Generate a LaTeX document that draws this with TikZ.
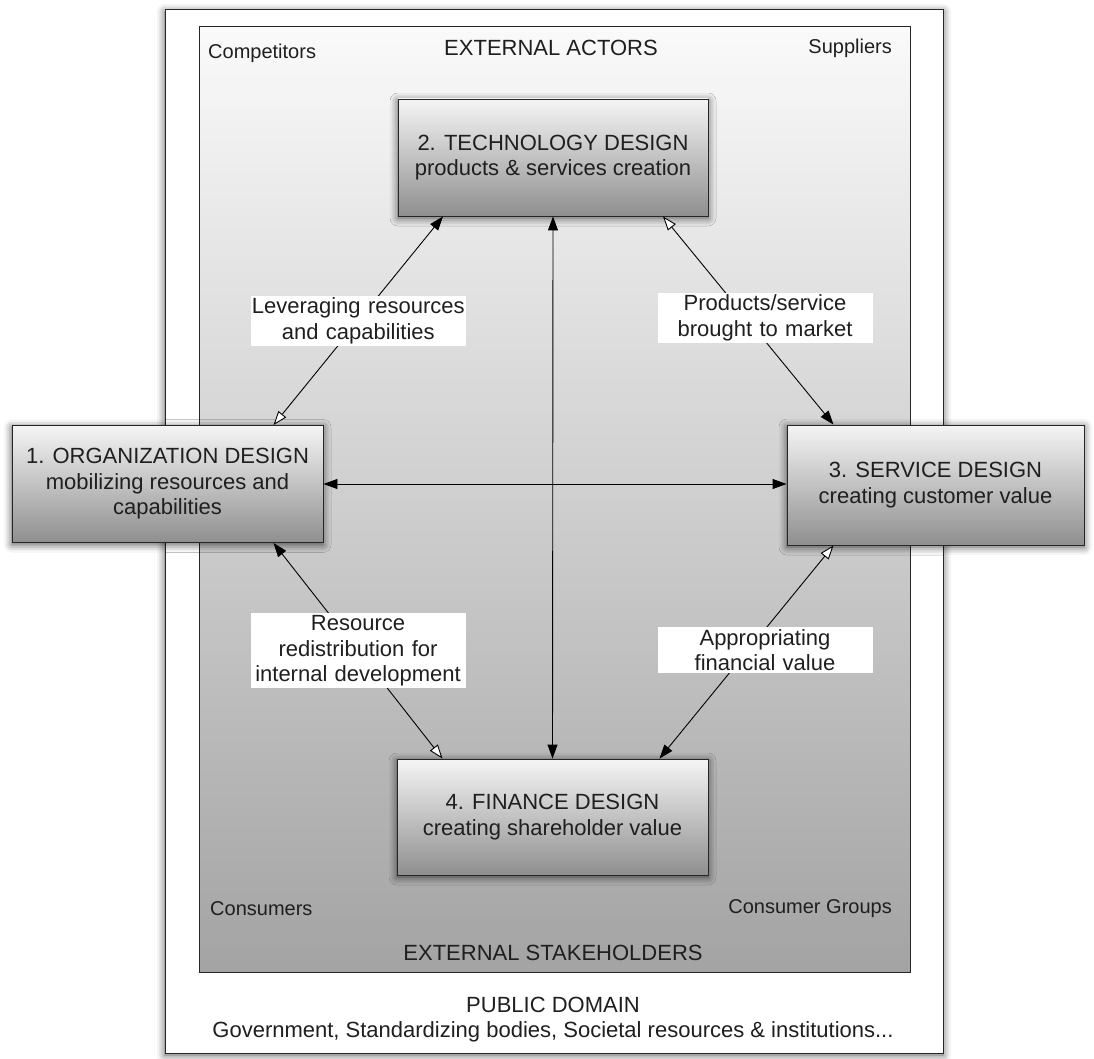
\documentclass[tikz,border=0pt]{standalone}
\usepackage{fontspec}
\setmainfont{Liberation Sans}
\usetikzlibrary{arrows.meta,shadows.blur,calc}
\tikzset{
  fullT/.tip={Triangle[length=14pt,width=10pt]},
  openT/.tip={Triangle[open,length=14pt,width=10pt,fill=white]},
}
\begin{document}
\begin{tikzpicture}[x=1pt,y=-1pt,
  dbox/.style={draw=black!85, line width=0.9pt, top color=black!4, bottom color=black!44,
    align=center, text=black!88, font=\fontsize{22}{25.5}\selectfont, inner sep=0pt,
    blur shadow={shadow blur radius=8pt, shadow xshift=0pt, shadow yshift=-2pt, shadow opacity=70}},
  lbl/.style={fill=white, align=center, text width=215pt, inner xsep=0pt, inner ysep=2pt,
    text=black!88, font=\fontsize{22}{25.5}\selectfont},
  bigtxt/.style={font=\fontsize{22}{25}\selectfont, inner sep=0pt, text=black!88},
  smalltxt/.style={font=\fontsize{20}{24}\selectfont, inner sep=0pt, text=black!88},
  conn/.style={line width=0.9pt, black},
]
\useasboundingbox (0,0) rectangle (1094,1059);
% outer public domain frame
\path[draw=black!85, fill=white, line width=1pt,
  blur shadow={shadow blur radius=8pt, shadow xshift=0pt, shadow yshift=-2pt, shadow opacity=70}]
  (165,10) rectangle (943,1053);
% inner gray area
\path[draw=black!85, line width=1pt, top color=black!2, bottom color=black!36]
  (199,27) rectangle (910,972);

% texts of the frames
\node[smalltxt, anchor=west] (comp) at (208,53) {Competitors};
\node[bigtxt] (extact) at (551,48) {EXTERNAL ACTORS};
\node[smalltxt, anchor=east] (supp) at (892,48) {Suppliers};
\node[smalltxt, anchor=west] (cons) at (210,909) {Consumers};
\node[smalltxt, anchor=east] (consg) at (892,909) {Consumer Groups};
\node[bigtxt] (extst) at (553,953) {EXTERNAL STAKEHOLDERS};
\node[bigtxt] (pub) at (553,1005) {PUBLIC DOMAIN};
\node[bigtxt] (gov) at (553,1032) {Government, Standardizing bodies, Societal resources \& institutions...};

% design boxes
\node[dbox, minimum width=310pt, minimum height=117pt] (tech) at (553,157.5)
  {2. TECHNOLOGY DESIGN\\products \& services creation};
\node[dbox, minimum width=311pt, minimum height=117pt] (org) at (167.5,484)
  {1. ORGANIZATION DESIGN\\mobilizing resources and\\capabilities};
\node[dbox, minimum width=297pt, minimum height=120pt] (serv) at (935.5,485)
  {3. SERVICE DESIGN\\creating customer value};
\node[dbox, minimum width=311pt, minimum height=116pt] (fin) at (552.5,817)
  {4. FINANCE DESIGN\\creating shareholder value};

% connectors
\draw[conn, {openT}-{fullT}] ([xshift=106pt]org.north) -- ([xshift=-110pt]tech.south)
  node[lbl, midway] (l1) {Leveraging resources\\and capabilities};
\draw[conn, {fullT}-{fullT}] (tech.south) -- (fin.north);
\draw[conn, {fullT}-{fullT}] (org.east) -- (org.east -| serv.west);
\draw[conn, {openT}-{fullT}] ([xshift=110pt]tech.south) -- ([xshift=-102pt]serv.north);
\draw[conn, {fullT}-{openT}] ([xshift=106pt]org.south) -- ([xshift=-110pt]fin.north)
  node[lbl, midway] (l3) {Resource\\redistribution for\\internal development};
\draw[conn, {openT}-{fullT}] ([xshift=-102pt]serv.south) -- ([xshift=107pt]fin.north);

\node[lbl] (l2) at (765,318) {Products/service\\brought to market};
\node[lbl] (l4) at (765,650) {Appropriating\\financial value};
\end{tikzpicture}
\end{document}
